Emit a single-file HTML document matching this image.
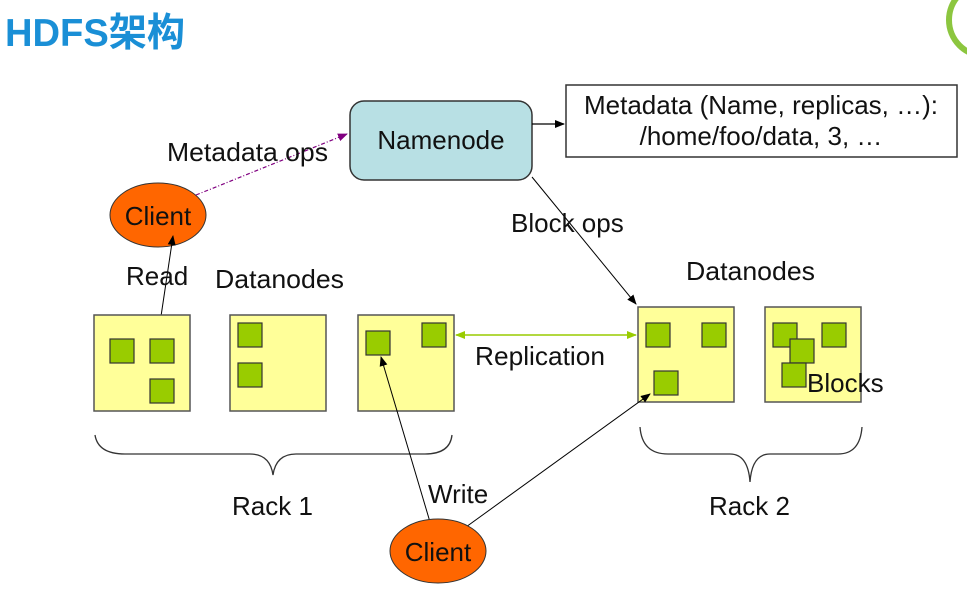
<!DOCTYPE html>
<html><head><meta charset="utf-8"><style>
body{margin:0;background:#fff;width:967px;height:599px;overflow:hidden}
svg text{font-family:"Liberation Sans",Arial,sans-serif;fill:#111}
</style></head><body>
<svg width="967" height="599" viewBox="0 0 967 599" xmlns="http://www.w3.org/2000/svg">
<defs>
<marker id="a" markerWidth="10" markerHeight="8" refX="9" refY="4" orient="auto" markerUnits="userSpaceOnUse"><path d="M0,0L10,4L0,8z" fill="#000"/></marker>
<marker id="p" markerWidth="10" markerHeight="8" refX="9" refY="4" orient="auto" markerUnits="userSpaceOnUse"><path d="M0,0L10,4L0,8z" fill="#800080"/></marker>
<marker id="g" markerWidth="10" markerHeight="8" refX="9" refY="4" orient="auto-start-reverse" markerUnits="userSpaceOnUse"><path d="M0,0L10,4L0,8z" fill="#99cc00"/></marker>
</defs>
<text x="5" y="46" textLength="180" lengthAdjust="spacingAndGlyphs" style="font-family:'Liberation Sans','Noto Sans CJK SC',sans-serif;font-weight:bold;font-size:39px;fill:#1a8fd6">HDFS架构</text>
<circle cx="985" cy="20" r="36" fill="none" stroke="#8cc63f" stroke-width="6"/>
<rect x="350" y="101" width="182" height="79" rx="14" fill="#b8e0e4" stroke="#333" stroke-width="1.5"/>
<text x="441" y="149" font-size="26" text-anchor="middle">Namenode</text>
<rect x="566" y="85" width="391" height="72" fill="#fff" stroke="#333" stroke-width="1.5"/>
<text x="761" y="114" font-size="26" text-anchor="middle">Metadata (Name, replicas, …):</text>
<text x="761" y="145" font-size="26" text-anchor="middle">/home/foo/data, 3, …</text>
<line x1="532" y1="124" x2="564" y2="124" stroke="#000" stroke-width="1.2" marker-end="url(#a)"/>
<ellipse cx="158" cy="215" rx="48" ry="32" fill="#ff6600" stroke="#333"/>
<text x="158" y="225" font-size="26" text-anchor="middle">Client</text>
<line x1="196" y1="195" x2="347" y2="134" stroke="#800080" stroke-width="1.2" stroke-dasharray="4,2,1,2" marker-end="url(#p)"/>
<text x="167" y="161" font-size="26" textLength="161" lengthAdjust="spacingAndGlyphs">Metadata ops</text>
<line x1="160" y1="323" x2="173" y2="236" stroke="#000" stroke-width="1" marker-end="url(#a)"/>
<text x="126" y="285" font-size="26">Read</text>
<text x="215" y="288" font-size="26" textLength="129" lengthAdjust="spacingAndGlyphs">Datanodes</text>
<line x1="532" y1="177" x2="636" y2="304" stroke="#000" stroke-width="1" marker-end="url(#a)"/>
<text x="511" y="232" font-size="26">Block ops</text>
<text x="686" y="280" font-size="26" textLength="129" lengthAdjust="spacingAndGlyphs">Datanodes</text>
<g fill="#ffff99" stroke="#555" stroke-width="1.5">
<rect x="94" y="315" width="96" height="96"/><rect x="230" y="315" width="96" height="96"/><rect x="358" y="315" width="96" height="96"/>
<rect x="638" y="307" width="96" height="95"/><rect x="765" y="307" width="96" height="95"/>
</g>
<g fill="#99cc00" stroke="#333" stroke-width="1.2">
<rect x="110" y="339" width="24" height="24"/><rect x="150" y="339" width="24" height="24"/><rect x="150" y="379" width="24" height="24"/>
<rect x="238" y="323" width="24" height="24"/><rect x="238" y="363" width="24" height="24"/>
<rect x="366" y="331" width="24" height="24"/><rect x="422" y="323" width="24" height="24"/>
<rect x="646" y="323" width="24" height="24"/><rect x="702" y="323" width="24" height="24"/><rect x="654" y="371" width="24" height="24"/>
<rect x="773" y="323" width="24" height="24"/><rect x="822" y="323" width="24" height="24"/><rect x="790" y="339" width="24" height="24"/><rect x="782" y="363" width="24" height="24"/>
</g>
<text x="807" y="392" font-size="26">Blocks</text>
<line x1="456" y1="335" x2="636" y2="335" stroke="#99cc00" stroke-width="1.5" marker-start="url(#g)" marker-end="url(#g)"/>
<text x="475" y="365" font-size="26" textLength="130" lengthAdjust="spacingAndGlyphs">Replication</text>
<path d="M95,435 Q98,454 125,454 L250,454 Q270,454 273,475 Q276,454 296,454 L425,454 Q450,454 452,435" fill="none" stroke="#333" stroke-width="1.3"/>
<path d="M640,427 Q642,454 668,454 L730,454 Q748,454 750,482 Q752,454 770,454 L838,454 Q860,454 862,427" fill="none" stroke="#333" stroke-width="1.3"/>
<text x="232" y="515" font-size="26">Rack 1</text>
<text x="709" y="515" font-size="26">Rack 2</text>
<line x1="430" y1="522" x2="381" y2="357" stroke="#000" stroke-width="1" marker-end="url(#a)"/>
<line x1="466" y1="527" x2="650" y2="394" stroke="#000" stroke-width="1" marker-end="url(#a)"/>
<text x="428" y="503" font-size="26">Write</text>
<ellipse cx="438" cy="551" rx="48" ry="32" fill="#ff6600" stroke="#333"/>
<text x="438" y="561" font-size="26" text-anchor="middle">Client</text>
</svg>
</body></html>
